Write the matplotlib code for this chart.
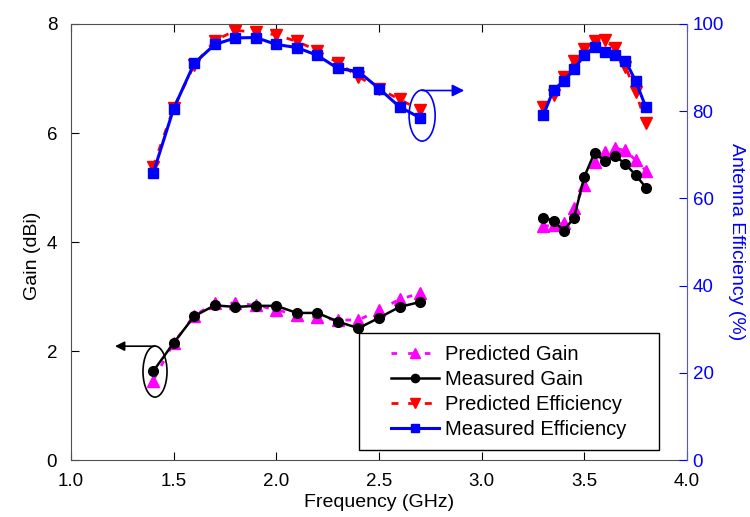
import matplotlib.pyplot as plt
from matplotlib.patches import Ellipse, Rectangle

plt.rcParams['font.family'] = ['Liberation Sans', 'DejaVu Sans']

# ── data ─────────────────────────────────────────────────────────────────────
freq_low = [1.4, 1.5, 1.6, 1.7, 1.8, 1.9, 2.0, 2.1, 2.2, 2.3, 2.4, 2.5, 2.6, 2.7]
freq_high = [3.3, 3.35, 3.4, 3.45, 3.5, 3.55, 3.6, 3.65, 3.7, 3.75, 3.8]

gain_pred_low = [1.46, 2.15, 2.65, 2.88, 2.88, 2.84, 2.76, 2.66, 2.62, 2.57, 2.57, 2.75, 2.95, 3.06]
gain_meas_low = [1.63, 2.15, 2.64, 2.84, 2.81, 2.83, 2.83, 2.70, 2.70, 2.54, 2.42, 2.61, 2.81, 2.90]
gain_pred_high = [4.29, 4.31, 4.35, 4.62, 5.05, 5.47, 5.66, 5.72, 5.68, 5.50, 5.31]
gain_meas_high = [4.45, 4.39, 4.21, 4.45, 5.20, 5.64, 5.49, 5.58, 5.43, 5.23, 5.00]

eff_pred_low = [67.3, 80.8, 90.6, 96.2, 98.5, 98.2, 97.5, 96.0, 93.9, 91.1, 87.9, 85.2, 82.7, 80.3]
eff_meas_low = [65.8, 80.6, 91.0, 95.3, 96.8, 96.9, 95.3, 94.6, 92.8, 89.8, 89.1, 85.2, 81.0, 78.5]
eff_pred_high = [80.9, 83.7, 87.9, 91.4, 94.2, 96.1, 96.3, 94.4, 90.2, 84.5, 77.2]
eff_meas_high = [79.1, 84.9, 86.9, 89.6, 92.9, 94.8, 93.6, 93.0, 91.6, 86.9, 80.9]

x_ticks = [1.0, 1.5, 2.0, 2.5, 3.0, 3.5, 4.0]
gain_ticks = [0, 2, 4, 6, 8]
eff_ticks = [0, 20, 40, 60, 80, 100]

# ── figure ───────────────────────────────────────────────────────────────────
fig = plt.figure(figsize=(7.5, 5.17), dpi=100)
ax = fig.add_axes([0.0947, 0.110, 0.8213, 0.8436])
ax2 = ax.twinx()

fs = 13.5
mag_dash = (0, (2, 4))
red_dash = (0, (2.5, 3.5))

# gain (left axis)
for i, (f, gp, gm) in enumerate([(freq_low, gain_pred_low, gain_meas_low),
                                  (freq_high, gain_pred_high, gain_meas_high)]):
    ax.plot(f, gp, color='#FF00FF', ls=mag_dash, lw=2, marker='^', ms=8.5,
            label='Predicted Gain' if i == 0 else None, zorder=3)
    ax.plot(f, gm, color='black', ls='-', lw=1.8, marker='o', ms=7,
            label='Measured Gain' if i == 0 else None, zorder=4)

# efficiency (right axis)
for i, (f, ep, em) in enumerate([(freq_low, eff_pred_low, eff_meas_low),
                                  (freq_high, eff_pred_high, eff_meas_high)]):
    ax2.plot(f, ep, color='#FF0000', ls=red_dash, lw=2, marker='v', ms=8.5,
             label='Predicted Efficiency' if i == 0 else None, zorder=3)
    ax2.plot(f, em, color='#0000FF', ls='-', lw=2.2, marker='s', ms=6.5,
             label='Measured Efficiency' if i == 0 else None, zorder=4)

# axes setup
ax.set_xlim(1.0, 4.0)
ax.set_ylim(0, 8)
ax2.set_ylim(0, 100)
ax.set_xticks(x_ticks)
ax.set_xticklabels([f'{t:.1f}' for t in x_ticks])
ax.set_yticks(gain_ticks)
ax2.set_yticks(eff_ticks)

ax.tick_params(axis='both', direction='in', length=6, labelsize=fs,
               top=True, right=False)
ax.tick_params(axis='x', pad=9)
ax.tick_params(axis='y', pad=10)
ax2.tick_params(axis='y', direction='in', length=6, labelsize=fs,
                colors='#0000FF', pad=4)

for s in ['left', 'bottom', 'top']:
    ax.spines[s].set_color('#505050')
ax2.spines['right'].set_color('#5050FF')
ax2.spines['left'].set_visible(False)
ax2.spines['top'].set_visible(False)
ax2.spines['bottom'].set_visible(False)
ax.spines['right'].set_visible(False)

ax.set_xlabel('Frequency (GHz)', fontsize=14, labelpad=3)
ax.set_ylabel('Gain (dBi)', fontsize=14)
ax.yaxis.set_label_coords(-0.049, 0.468)
ax2.set_ylabel('Antenna Efficiency (%)', fontsize=14, color='#0000FF',
               rotation=270, labelpad=15)

# ── annotations: ellipses + arrows ───────────────────────────────────────────
ax.add_patch(Ellipse((2.71, 6.32), 0.127, 0.936, fill=False,
                     ec='#0000FF', lw=1.2, zorder=5))
ax.annotate('', xy=(2.915, 6.78), xytext=(2.71, 6.78),
            arrowprops=dict(arrowstyle='-|>', color='#0000FF', lw=1.2,
                            mutation_scale=18, shrinkA=0, shrinkB=0))

ax.add_patch(Ellipse((1.409, 1.624), 0.117, 0.936, fill=False,
                     ec='black', lw=1.2, zorder=5))
ax.annotate('', xy=(1.214, 2.09), xytext=(1.409, 2.09),
            arrowprops=dict(arrowstyle='-|>', color='black', lw=1.2,
                            mutation_scale=14, shrinkA=0, shrinkB=0))

# ── legend (frame drawn separately) ──────────────────────────────────────────
lx0, lx1, ly0, ly1 = 0.4675, 0.9545, 0.0229, 0.2913
ax2.add_patch(Rectangle((lx0, ly0), lx1 - lx0, ly1 - ly0, transform=ax2.transAxes,
                        fc='white', ec='black', lw=1.0, zorder=6))
h1, l1 = ax.get_legend_handles_labels()
h2, l2 = ax2.get_legend_handles_labels()
leg = ax2.legend(h1 + h2, l1 + l2, loc='center',
                 bbox_to_anchor=((lx0 + lx1) / 2, (ly0 + ly1) / 2),
                 fontsize=14.5, frameon=False, markerscale=0.85,
                 handlelength=2.4, labelspacing=0.3, borderpad=0,
                 handletextpad=0.3)
leg.set_zorder(7)

fig.savefig('out.png', dpi=100)
